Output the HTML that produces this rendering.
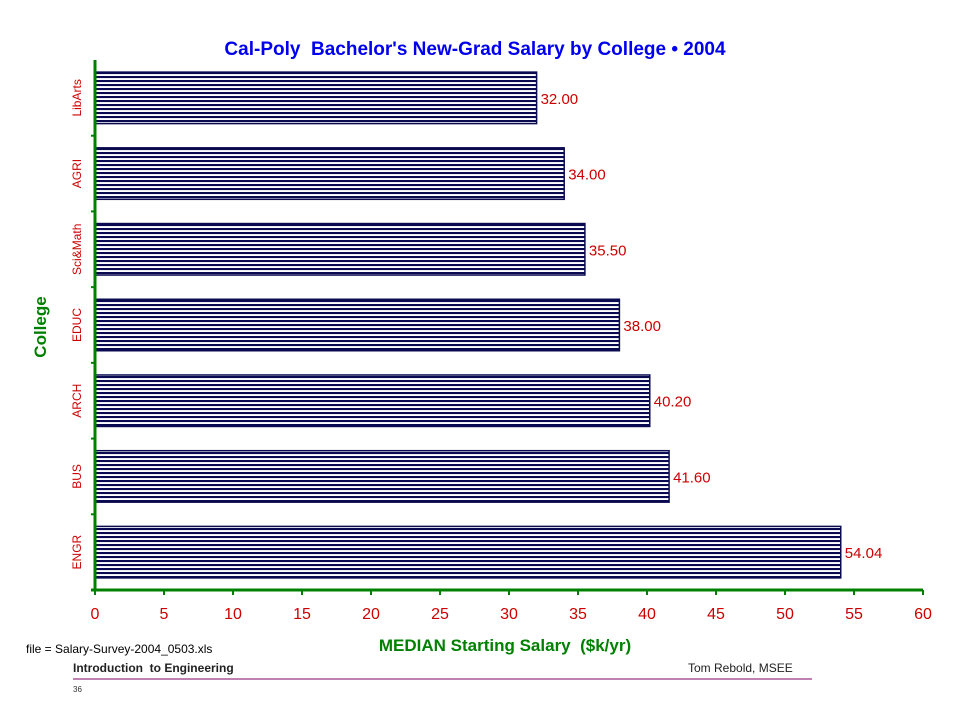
<!DOCTYPE html>
<html><head><meta charset="utf-8"><style>
body{margin:0;background:#fff;width:960px;height:720px;overflow:hidden;font-family:"Liberation Sans",Arial,sans-serif}
</style></head><body>
<svg width="960" height="720" xmlns="http://www.w3.org/2000/svg">
<defs>
<pattern id="stripes" patternUnits="userSpaceOnUse" width="8" height="4">
<rect width="8" height="2.2" fill="#0a0a50"/><rect y="2.2" width="8" height="1.8" fill="#fff"/>
</pattern>
</defs>
<text x="475" y="55" text-anchor="middle" font-size="19" font-weight="bold" fill="#0000ee">Cal-Poly&#160; Bachelor's New-Grad Salary by College • 2004</text>
<g id="plot"></g>
<text x="505" y="651" text-anchor="middle" font-size="17" font-weight="bold" fill="#008000">MEDIAN Starting Salary&#160; ($k/yr)</text>
<text transform="translate(46,327) rotate(-90)" text-anchor="middle" font-size="17" font-weight="bold" fill="#008000">College</text>
<text x="26" y="653" font-size="12" fill="#000">file = Salary-Survey-2004_0503.xls</text>
<text x="73" y="672" font-size="12" font-weight="bold" fill="#222">Introduction&#160; to Engineering</text>
<text x="688" y="672" font-size="12" fill="#222">Tom Rebold, MSEE</text>
<line x1="73" y1="679" x2="812" y2="679" stroke="#800060" stroke-width="1"/>
<text x="73" y="692" font-size="8" fill="#333">36</text>
</svg>
<script>
const categories=["LibArts","AGRI","Sci&Math","EDUC","ARCH","BUS","ENGR"];
const values=[32.00,34.00,35.50,38.00,40.20,41.60,54.04];
const xTicks=[0,5,10,15,20,25,30,35,40,45,50,55,60];
const NS="http://www.w3.org/2000/svg";
const g=document.getElementById("plot");
const x0=95,x1=923,yTop=60,yBot=590,xMax=60;
const xs=v=>x0+v/xMax*(x1-x0);
const band=(yBot-yTop)/categories.length;
function mk(t,a,txt){const e=document.createElementNS(NS,t);for(const k in a)e.setAttribute(k,a[k]);if(txt!==undefined)e.textContent=txt;g.appendChild(e);return e;}
categories.forEach((c,i)=>{
  const y=yTop+i*band+band*0.16,h=band*0.68;
  const r=mk("rect",{x:x0,y:y,width:xs(values[i])-x0,height:h,fill:"url(#stripes)",stroke:"#0a0a50","stroke-width":1.5});
  
  
  const v=mk("text",{x:xs(values[i])+4,y:y+h/2+6,"font-size":15,fill:"#cc0000"},values[i].toFixed(2));
  
  
  const l=mk("text",{transform:`translate(81,${yTop+i*band+band/2}) rotate(-90)`,"text-anchor":"middle","font-size":12,fill:"#cc0000"},c);
  
  
  const t=mk("line",{x1:x0-4,x2:x0,y1:yTop+(i+1)*band,y2:yTop+(i+1)*band,stroke:"#008000","stroke-width":2});
  
  
});
xTicks.forEach(v=>{
  const t=mk("line",{x1:xs(v),x2:xs(v),y1:yBot,y2:yBot+5,stroke:"#008000","stroke-width":2});
  
  
  const l=mk("text",{x:xs(v),y:yBot+29,"text-anchor":"middle","font-size":16,fill:"#cc0000"},v);
  
  
});
const ya=mk("line",{x1:x0,x2:x0,y1:yTop,y2:yBot,stroke:"#008000","stroke-width":3});


const xa=mk("line",{x1:x0-4,x2:x1,y1:yBot,y2:yBot,stroke:"#008000","stroke-width":3});


</script>
</body></html>
